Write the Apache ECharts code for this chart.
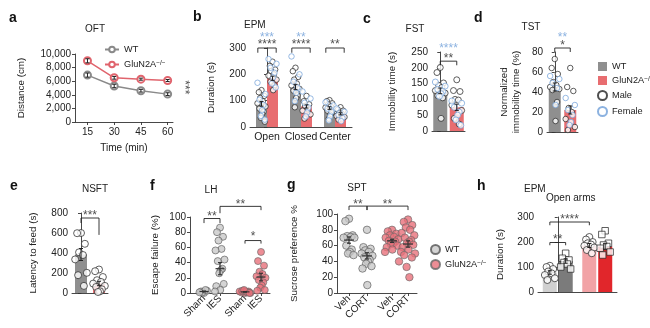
<!DOCTYPE html>
<html><head><meta charset="utf-8">
<script src="https://cdn.jsdelivr.net/npm/echarts@6.0.0/dist/echarts.min.js"></script>
<style>html,body{margin:0;padding:0;background:#fff;}#chart{width:650px;height:328px;}</style>
</head><body><div id="chart"></div>
<script>
// ===== DATA =====
// a: OFT
const oftTimes = [15, 30, 45, 60];
const oftWT = [6900, 5300, 4600, 4100];
const oftWTsem = [300, 250, 200, 200];
const oftKO = [9000, 6500, 6300, 6100];
const oftKOsem = [300, 200, 150, 150];
// b: EPM
const epmCats = ['Open', 'Closed', 'Center'];
const epmWT = [88, 152, 72];
const epmKO = [185, 78, 50];
const epmWTsem = [9, 10, 5];
const epmKOsem = [8, 6, 4];
const epmWTmale = [[140,132,118,110,98,90,78,70,58,50,35,20],[225,212,190,180,165,158,145,138,120,110,75],[102,98,90,86,78,74,66,62,52,46,32]];
const epmWTfemale = [[168,125,104,84,64,42,28],[268,200,172,150,130,98],[94,82,70,58,40,25]];
const epmKOmale = [[248,232,218,212,200,195,180,172,158,140],[118,98,86,80,68,62,48,32],[75,66,62,54,50,42,38,28]];
const epmKOfemale = [[258,240,225,206,188,165,150],[135,108,92,74,55,40],[70,58,46,34,22]];
// c: FST
const fstBars = [127, 75];
const fstSem = [9, 10];
const fstMale = [[201,185,152,145,138,128,120,112,105,40],[162,128,125,100,98,82,65,40,22]];
const fstFemale = [[155,142,132,125,118,110],[95,88,75,60,50,35,18]];
// d: TST
const tstBars = [45, 22];
const tstSem = [4, 4];
const tstMale = [[73,64,58,50,47,45,43,42,30,11],[64,45,41,24,20,13,5,2]];
const tstFemale = [[56,53,49,44,27],[34,27,22,17,10,7]];
// e: NSFT
const nsftBars = [385, 95];
const nsftSem = [60, 22];
const nsftPts = [[600,598,492,407,380,336,202,178,71],[235,218,160,128,111,94,71,60,37,17,10]];
// f: LH
const lhLabels = ['Sham','IES','Sham','IES'];
const lhWT = [[0,2,3,1,4,1],[86,80,74,69,58,56,44,42,32,30,26,12,9,4,2]];
const lhKO = [[0,1,2,3,1,2,0,3,1,2,4,0],[54,42,36,28,25,22,20,17,14,10,7,4,3]];
const lhMean = [2, 32, 1.5, 21];
const lhSem = [0.6, 8, 0.4, 5];
// g: SPT
const sptLabels = ['Veh','CORT','Veh','CORT'];
const sptWT = [[94,91,73,72,71,70,70,60,55,52,50,48],[80,58,56,54,52,50,47,45,42,40,37,34,31,10]];
const sptKO = [[80,78,75,73,71,70,68,66,65,63,62,60,58,55,52,40],[93,90,86,83,80,76,73,70,67,65,63,61,58,55,52,50,48,45,33,20]];
const sptMean = [67, 47, 66, 62];
const sptSem = [4, 4, 2, 4];
// h: EPM open arms
const ohBars1 = [78, 186];
const ohBars2 = [124, 182];
const ohSem1 = [7, 8];
const ohSem2 = [9, 11];
const ohCircles = [[105,100,92,82,75,68,55,48],[220,210,200,195,190,185,178,168,155]];
const ohSquares = [[155,135,128,118,112,100,92],[245,230,195,188,182,175,160,148]];

// ===== STYLE / LAYOUT =====
const FF = '"Liberation Sans", Arial, Helvetica, sans-serif';
const INK = '#222';
const BLUE = '#6f9fd8';
const GRAYBAR = '#8f8f8f';
const REDBAR = '#e86d70';
const GRAYLINE = '#8a8a8a';
const REDLINE = '#e0646d';
const PTGRAY = '#c9c9c9';
const PTRED = '#e8707a';
const jitter = [0,-0.6,0.6,-0.3,0.3,-0.9,0.9,-0.45,0.45,0.15,-0.15,0.75,-0.75,0.05,-1,1,-0.55,0.55,-0.2,0.2];
const fPos = [1.4, 3.0, 5.5, 7.1];
const gPos = [1.2, 3.0, 5.5, 7.1];
const lineSty = {color:'#333', width:0.9};
const STAR = 12;

const grids = [
 {left:75, top:54, width:98, height:68},
 {left:250, top:48, width:102, height:79},
 {left:432, top:52, width:33, height:79},
 {left:547, top:52, width:31, height:80},
 {left:72, top:213, width:36, height:80},
 {left:190, top:217, width:80, height:76},
 {left:337, top:214, width:80, height:79},
 {left:538, top:217, width:79, height:75}
];

function place(vals, cx, spread, start){ return vals.map((v,i)=>[cx + spread*jitter[(i+(start||0))%jitter.length], v]); }
function yAx(grid, max, interval, name, gap, fmt){
 return {type:'value', gridIndex:grid, min:0, max, interval, name, nameLocation:'middle', nameGap:gap,
  nameTextStyle:{fontSize:9.8, color:INK, fontFamily:FF, lineHeight:12},
  axisLine:{show:true, lineStyle:lineSty}, axisTick:{show:true, length:3, lineStyle:lineSty},
  axisLabel:{fontSize:10, color:INK, fontFamily:FF, margin:4, formatter:fmt},
  splitLine:{show:false}};
}
function catAx(grid, data, showLabel){ return {type:'category', gridIndex:grid, data, axisLine:{show:true,lineStyle:lineSty}, axisTick:{show:false}, axisLabel:{show:showLabel, interval:0, fontSize:10.5, color:INK, fontFamily:FF, margin:5}, splitLine:{show:false}}; }
function hidAx(grid, min, max){ return {type:'value', gridIndex:grid, min, max, show:false}; }
function grpAx(grid, pos, labels){
 return {type:'value', gridIndex:grid, min:0, max:8, axisLine:{show:true,lineStyle:lineSty},
  axisTick:{show:true, length:3, customValues:pos, lineStyle:lineSty},
  axisLabel:{customValues:pos, rotate:45, fontSize:10, color:INK, fontFamily:FF, margin:4, formatter:v=>labels[pos.indexOf(v)]},
  splitLine:{show:false}};
}
function errSeries(xi, yi, data, cap){
 return {type:'custom', xAxisIndex:xi, yAxisIndex:yi, z:5, silent:true, data, encode:{x:0,y:[1,2]},
  renderItem:(p, api)=>{ const x=api.value(0), lo=api.value(1), hi=api.value(2);
   const a=api.coord([x,hi]), b=api.coord([x,lo]); const c=cap/2; const st={stroke:INK, lineWidth:1};
   return {type:'group', children:[
    {type:'line', shape:{x1:a[0],y1:a[1],x2:b[0],y2:b[1]}, style:st},
    {type:'line', shape:{x1:a[0]-c,y1:a[1],x2:a[0]+c,y2:a[1]}, style:st},
    {type:'line', shape:{x1:b[0]-c,y1:b[1],x2:b[0]+c,y2:b[1]}, style:st}]};
  }};
}
function meanSeries(xi, yi, pos, means, sems, w){
 return {type:'custom', xAxisIndex:xi, yAxisIndex:yi, z:6, silent:true,
  data: pos.map((x,i)=>[x, means[i], sems[i]]), encode:{x:0,y:1},
  renderItem:(p, api)=>{ const x=api.value(0), m=api.value(1), s=api.value(2);
   const c=api.coord([x,m]), a=api.coord([x,m+s]), b=api.coord([x,Math.max(0,m-s)]); const st={stroke:'#333', lineWidth:1.2};
   return {type:'group', children:[
    {type:'line', shape:{x1:c[0]-w/2,y1:c[1],x2:c[0]+w/2,y2:c[1]}, style:st},
    {type:'line', shape:{x1:a[0],y1:a[1],x2:b[0],y2:b[1]}, style:st},
    {type:'line', shape:{x1:a[0]-2,y1:a[1],x2:a[0]+2,y2:a[1]}, style:st},
    {type:'line', shape:{x1:b[0]-2,y1:b[1],x2:b[0]+2,y2:b[1]}, style:st}]};
  }};
}
function bracket(xi, yi, x1, x2, top, l1, l2){
 return {type:'line', xAxisIndex:xi, yAxisIndex:yi, data:[[x1,l1],[x1,top],[x2,top],[x2,l2]], symbol:'none', clip:false, silent:true, z:6, lineStyle:{color:INK, width:0.9}};
}
function stars(xi, yi, x, y, text, color, rot){
 return {type:'scatter', xAxisIndex:xi, yAxisIndex:yi, clip:false, silent:true, symbolSize:1, itemStyle:{color:'rgba(0,0,0,0)'}, z:7,
   data:[{value:[x,y], name:text}], label:{show:true, position:'inside', formatter:'{b}', color:color||INK, fontSize:STAR, fontFamily:FF, rotate:rot||0}};
}
const maleSty = {color:'#fff', borderColor:INK, borderWidth:0.9};
const femaleSty = {color:'#fff', borderColor:BLUE, borderWidth:0.9};

const series = [];
// ---- a ----
series.push({name:'oftWT', type:'line', xAxisIndex:0, yAxisIndex:0, data:oftTimes.map((t,i)=>[t,oftWT[i]]), symbol:'emptyCircle', symbolSize:7, lineStyle:{color:GRAYLINE,width:1.5}, itemStyle:{color:GRAYLINE, borderWidth:1.2}, z:4});
series.push({name:'oftKO', type:'line', xAxisIndex:0, yAxisIndex:0, data:oftTimes.map((t,i)=>[t,oftKO[i]]), symbol:'emptyCircle', symbolSize:7, lineStyle:{color:REDLINE,width:1.5}, itemStyle:{color:REDLINE, borderWidth:1.2}, z:4});
series.push(errSeries(0,0, oftTimes.map((t,i)=>[t,oftWT[i]-oftWTsem[i],oftWT[i]+oftWTsem[i]]).concat(oftTimes.map((t,i)=>[t,oftKO[i]-oftKOsem[i],oftKO[i]+oftKOsem[i]])), 4));
series.push(bracket(0,0,64.5,67,5100,6100,4100));
series.push({type:'line', xAxisIndex:0, yAxisIndex:0, data:[[64.5,6100],[67,6100]], symbol:'none', clip:false, silent:true, lineStyle:{color:INK,width:0.9}});
series.push(stars(0,0,69.5,5100,'***',INK,-90));
// ---- b ----
const bOff = 0.162;
series.push({name:'barWT', type:'bar', xAxisIndex:1, yAxisIndex:1, data:epmWT, barWidth:11, barGap:'0%', itemStyle:{color:GRAYBAR}, z:2});
series.push({name:'barKO', type:'bar', xAxisIndex:1, yAxisIndex:1, data:epmKO, barWidth:11, barGap:'0%', itemStyle:{color:REDBAR}, z:2});
let bm = [], bf = [];
epmCats.forEach((c,i)=>{
 bm = bm.concat(place(epmWTmale[i], i-bOff, 0.13, 0), place(epmKOmale[i], i+bOff, 0.13, 0));
 bf = bf.concat(place(epmWTfemale[i], i-bOff, 0.13, 5), place(epmKOfemale[i], i+bOff, 0.13, 5));
});
series.push({name:'male', type:'scatter', xAxisIndex:2, yAxisIndex:1, data:bm, symbolSize:5.5, itemStyle:maleSty, z:3});
series.push({name:'female', type:'scatter', xAxisIndex:2, yAxisIndex:1, data:bf, symbolSize:5.5, itemStyle:femaleSty, z:3});
series.push(errSeries(2,1, epmCats.map((c,i)=>[i-bOff, epmWT[i]-epmWTsem[i], epmWT[i]+epmWTsem[i]]).concat(epmCats.map((c,i)=>[i+bOff, epmKO[i]-epmKOsem[i], epmKO[i]+epmKOsem[i]])), 4));
[0,1,2].forEach(i=>{ series.push(bracket(2,1,i-0.27,i+0.27,300,282,282)); });
series.push(stars(2,1,0,311,'****'));
series.push(stars(2,1,1,311,'****'));
series.push(stars(2,1,2,311,'**'));
series.push(stars(2,1,0,338,'***',BLUE));
series.push(stars(2,1,1,338,'**',BLUE));
// ---- c ----
series.push({name:'fstBar', type:'bar', xAxisIndex:3, yAxisIndex:2, data:[{value:fstBars[0],itemStyle:{color:GRAYBAR}},{value:fstBars[1],itemStyle:{color:REDBAR}}], barWidth:14, z:2});
series.push({name:'male', type:'scatter', xAxisIndex:4, yAxisIndex:2, data:place(fstMale[0],0,0.33,0).concat(place(fstMale[1],1,0.33,0)), symbolSize:6, itemStyle:maleSty, z:3});
series.push({name:'female', type:'scatter', xAxisIndex:4, yAxisIndex:2, data:place(fstFemale[0],0,0.33,5).concat(place(fstFemale[1],1,0.33,5)), symbolSize:6, itemStyle:femaleSty, z:3});
series.push(errSeries(4,2,[[0,fstBars[0]-fstSem[0],fstBars[0]+fstSem[0]],[1,fstBars[1]-fstSem[1],fstBars[1]+fstSem[1]]],4));
series.push(bracket(4,2,0,1,221,208,208));
series.push(stars(4,2,0.5,230,'**'));
series.push(stars(4,2,0.5,261,'****',BLUE));
// ---- d ----
series.push({name:'tstBar', type:'bar', xAxisIndex:5, yAxisIndex:3, data:[{value:tstBars[0],itemStyle:{color:GRAYBAR}},{value:tstBars[1],itemStyle:{color:REDBAR}}], barWidth:12, z:2});
series.push({name:'male', type:'scatter', xAxisIndex:6, yAxisIndex:3, data:place(tstMale[0],0,0.33,0).concat(place(tstMale[1],1,0.33,0)), symbolSize:5.5, itemStyle:maleSty, z:3});
series.push({name:'female', type:'scatter', xAxisIndex:6, yAxisIndex:3, data:place(tstFemale[0],0,0.33,5).concat(place(tstFemale[1],1,0.33,5)), symbolSize:5.5, itemStyle:femaleSty, z:3});
series.push(errSeries(6,3,[[0,tstBars[0]-tstSem[0],tstBars[0]+tstSem[0]],[1,tstBars[1]-tstSem[1],tstBars[1]+tstSem[1]]],4));
series.push(bracket(6,3,0,1,84,80,80));
series.push(stars(6,3,0.5,86,'*'));
series.push(stars(6,3,0.5,94,'**',BLUE));
// ---- e ----
series.push({name:'nsftBar', type:'bar', xAxisIndex:7, yAxisIndex:4, data:[{value:nsftBars[0],itemStyle:{color:GRAYBAR}},{value:nsftBars[1],itemStyle:{color:REDBAR}}], barWidth:12, z:2});
series.push({name:'nsftPts', type:'scatter', xAxisIndex:8, yAxisIndex:4, data:place(nsftPts[0],0,0.36,0).concat(place(nsftPts[1],1,0.36,0)), symbolSize:7, itemStyle:maleSty, z:3});
series.push(errSeries(8,4,[[0,nsftBars[0]-nsftSem[0],nsftBars[0]+nsftSem[0]],[1,nsftBars[1]-nsftSem[1],nsftBars[1]+nsftSem[1]]],4));
series.push(bracket(8,4,0,1,750,700,581));
series.push(stars(8,4,0.5,770,'***'));
// ---- f ----
const ptWTsty = {color:PTGRAY, borderColor:'#555', borderWidth:0.8};
const ptKOsty = {color:PTRED, borderColor:'#666', borderWidth:0.8};
series.push({name:'ptWT', type:'scatter', xAxisIndex:9, yAxisIndex:5, data:place(lhWT[0],fPos[0],0.5,0).concat(place(lhWT[1],fPos[1],0.5,0)), symbolSize:7, itemStyle:ptWTsty, z:3});
series.push({name:'ptKO', type:'scatter', xAxisIndex:9, yAxisIndex:5, data:place(lhKO[0],fPos[2],0.6,0).concat(place(lhKO[1],fPos[3],0.5,0)), symbolSize:7, itemStyle:ptKOsty, z:3});
series.push(meanSeries(9,5,fPos,lhMean,lhSem,9));
series.push(bracket(9,5,fPos[0],fPos[1],98,92,92));
series.push(stars(9,5,(fPos[0]+fPos[1])/2,100,'**'));
series.push(bracket(9,5,fPos[1],fPos[3],114,105,109));
series.push(stars(9,5,(fPos[1]+fPos[3])/2,116,'**'));
series.push(bracket(9,5,fPos[2],fPos[3],69,65,65));
series.push(stars(9,5,(fPos[2]+fPos[3])/2,74,'*'));
// ---- g ----
series.push({name:'ptWT', type:'scatter', xAxisIndex:10, yAxisIndex:6, data:place(sptWT[0],gPos[0],0.6,0).concat(place(sptWT[1],gPos[1],0.6,0)), symbolSize:7.5, itemStyle:ptWTsty, z:3});
series.push({name:'ptKO', type:'scatter', xAxisIndex:10, yAxisIndex:6, data:place(sptKO[0],gPos[2],0.7,0).concat(place(sptKO[1],gPos[3],0.7,0)), symbolSize:7.5, itemStyle:ptKOsty, z:3});
series.push(meanSeries(10,6,gPos,sptMean,sptSem,10));
series.push(bracket(10,6,gPos[0],gPos[1],110,105,105));
series.push(stars(10,6,(gPos[0]+gPos[1])/2,112,'**'));
series.push(bracket(10,6,gPos[1],gPos[3],110,105,105));
series.push(stars(10,6,(gPos[1]+gPos[3])/2,112,'**'));
// ---- h ----
const hOff = 0.2;
series.push({name:'ohBar1', type:'bar', xAxisIndex:11, yAxisIndex:7, data:[{value:ohBars1[0],itemStyle:{color:'#d0d0d0'}},{value:ohBars1[1],itemStyle:{color:'#f2a3a6'}}], barWidth:14, barGap:'14%', z:2});
series.push({name:'ohBar2', type:'bar', xAxisIndex:11, yAxisIndex:7, data:[{value:ohBars2[0],itemStyle:{color:'#7b7b7b'}},{value:ohBars2[1],itemStyle:{color:'#e1262b'}}], barWidth:14, barGap:'14%', z:2});
series.push({name:'ohCirc', type:'scatter', xAxisIndex:12, yAxisIndex:7, data:place(ohCircles[0],-hOff,0.14,0).concat(place(ohCircles[1],1-hOff,0.14,0)), symbolSize:7, itemStyle:maleSty, z:3});
series.push({name:'ohSq', type:'scatter', xAxisIndex:12, yAxisIndex:7, symbol:'rect', data:place(ohSquares[0],hOff,0.14,0).concat(place(ohSquares[1],1+hOff,0.14,0)), symbolSize:6.5, itemStyle:maleSty, z:3});
series.push(errSeries(12,7,[[-hOff,ohBars1[0]-ohSem1[0],ohBars1[0]+ohSem1[0]],[1-hOff,ohBars1[1]-ohSem1[1],ohBars1[1]+ohSem1[1]],[hOff,ohBars2[0]-ohSem2[0],ohBars2[0]+ohSem2[0]],[1+hOff,ohBars2[1]-ohSem2[1],ohBars2[1]+ohSem2[1]]],4));
series.push(bracket(12,7,-hOff,hOff,198,187,187));
series.push(stars(12,7,0,209,'**'));
series.push(bracket(12,7,-hOff,1-hOff,280,267,267));
series.push(stars(12,7,0.5-hOff,289,'****'));

const legendNames = {oftWT:'WT', oftKO:'GluN2A{s|−/−}', barWT:'WT', barKO:'GluN2A{s|−/−}', male:'Male', female:'Female', ptWT:'WT', ptKO:'GluN2A{s|−/−}'};
const legText = {fontSize:9.2, color:INK, fontFamily:FF, rich:{s:{fontSize:6.5, verticalAlign:'top', lineHeight:8}}};
const legendFmt = n => legendNames[n] || n;

const T = (text, left, top, extra) => Object.assign({text, left, top, padding:0, textStyle:{fontSize:10, fontWeight:'normal', color:INK, fontFamily:FF}}, extra||{});
const L = (text, left, top) => ({text, left, top, padding:0, textStyle:{fontSize:14, fontWeight:'bold', color:'#111', fontFamily:FF}});

const option = {
 animation:false,
 title:[
  L('a',9,11), T('OFT',95,24,{textAlign:'center'}),
  L('b',193,10), T('EPM',244,20),
  L('c',363,12), T('FST',415,24,{textAlign:'center'}),
  L('d',474,11), T('TST',531,22,{textAlign:'center'}),
  L('e',10,179), T('NSFT',95,184,{textAlign:'center'}),
  L('f',150,179), T('LH',211,185,{textAlign:'center'}),
  L('g',287,178), T('SPT',357,183,{textAlign:'center'}),
  L('h',477,179), T('EPM',524,184), T('Open arms',546,193)
 ],
 legend:[
  {left:99, top:40, orient:'vertical', itemGap:6, itemWidth:14, itemHeight:7, data:['oftWT','oftKO'], formatter:legendFmt, textStyle:legText, selectedMode:false},
  {left:592, top:57, orient:'vertical', itemGap:5, itemWidth:9, itemHeight:9, data:[{name:'barWT',icon:'rect'},{name:'barKO',icon:'rect'},{name:'male',icon:'circle'},{name:'female',icon:'circle'}], formatter:legendFmt, textStyle:legText, selectedMode:false},
  {left:425, top:239, orient:'vertical', itemGap:4, itemWidth:9, itemHeight:9, data:[{name:'ptWT',icon:'circle'},{name:'ptKO',icon:'circle'}], formatter:legendFmt, textStyle:legText, selectedMode:false}
 ],
 grid:grids,
 xAxis:[
  {type:'value', gridIndex:0, min:8, max:63, name:'Time (min)', nameLocation:'middle', nameGap:21, nameTextStyle:{fontSize:10,color:INK,fontFamily:FF},
   axisLine:{show:true,lineStyle:lineSty}, axisTick:{show:true,length:3,customValues:oftTimes,lineStyle:lineSty},
   axisLabel:{customValues:oftTimes, fontSize:10, color:INK, fontFamily:FF, margin:5}, splitLine:{show:false}},
  catAx(1, epmCats, true), hidAx(1,-0.5,2.5),
  catAx(2, ['WT','KO'], false), hidAx(2,-0.5,1.5),
  catAx(3, ['WT','KO'], false), hidAx(3,-0.5,1.5),
  catAx(4, ['WT','KO'], false), hidAx(4,-0.5,1.5),
  grpAx(5, fPos, lhLabels),
  grpAx(6, gPos, sptLabels),
  catAx(7, ['WT','KO'], false), hidAx(7,-0.5,1.5)
 ],
 yAxis:[
  yAx(0,10000,2000,'Distance (cm)',48,v=>v.toLocaleString('en-US')),
  yAx(1,300,100,'Duration (s)',33),
  yAx(2,250,50,'Immobility time (s)',34),
  yAx(3,80,20,'Normalized\nimmobility time (%)',25),
  yAx(4,800,200,'Latency to feed (s)',33),
  yAx(5,100,20,'Escape failure (%)',29),
  yAx(6,100,20,'Sucrose preference %',37),
  yAx(7,300,100,'Duration (s)',32)
 ],
 series
};
const chart = echarts.init(document.getElementById('chart'));
chart.setOption(option);
</script></body></html>
